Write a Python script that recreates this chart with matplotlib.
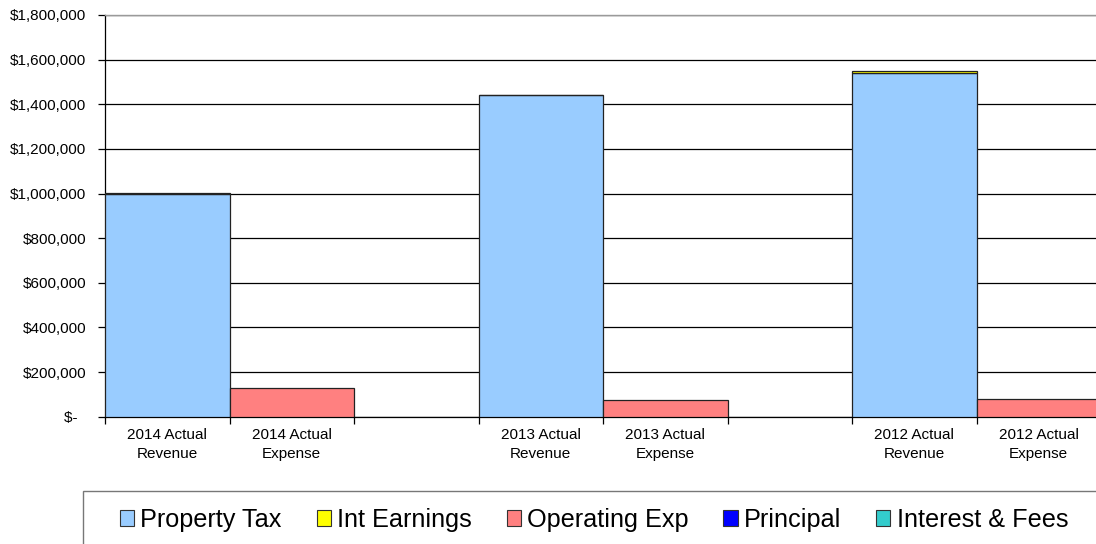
import matplotlib
matplotlib.use("Agg")
import matplotlib.pyplot as plt
from matplotlib.patches import Patch, Rectangle
from matplotlib.ticker import FuncFormatter
import numpy as np

plt.rcParams['font.family'] = ['Liberation Sans', 'DejaVu Sans']

# Categories (blank entries are spacer slots between years)
categories = ["2014 Actual\nRevenue", "2014 Actual\nExpense", "",
              "2013 Actual\nRevenue", "2013 Actual\nExpense", "",
              "2012 Actual\nRevenue", "2012 Actual\nExpense"]

# Stacked series values per category
property_tax    = [1000000, 0, 0, 1440000, 0, 0, 1540000, 0]
int_earnings    = [2000, 0, 0, 3000, 0, 0, 8000, 0]
operating_exp   = [0, 130000, 0, 0, 75000, 0, 0, 80000]
principal       = [0, 0, 0, 0, 0, 0, 0, 0]
interest_fees   = [0, 0, 0, 0, 0, 0, 0, 0]

series_names = ["Property Tax", "Int Earnings", "Operating Exp", "Principal", "Interest & Fees"]
series_vals = [property_tax, int_earnings, operating_exp, principal, interest_fees]
series_colors = ["#99CCFF", "#FFFF00", "#FF8080", "#0000FF", "#33CCCC"]

y_ticks = [0, 200000, 400000, 600000, 800000, 1000000, 1200000, 1400000, 1600000, 1800000]

W, H = 1096, 544
fig = plt.figure(figsize=(W / 100, H / 100), dpi=100)
ax = fig.add_axes([105 / W, 1 - 416.7 / H, (1101 - 105) / W, (416.7 - 15) / H])

x = np.arange(len(categories))
bottom = np.zeros(len(categories))
for name, vals, col in zip(series_names, series_vals, series_colors):
    v = np.array(vals, dtype=float)
    mask = v > 0
    ax.bar(x[mask], v[mask], width=1.0, bottom=bottom[mask], color=col,
           edgecolor="#222222", linewidth=0.9, zorder=3)
    bottom += v

ax.set_xlim(-0.5, len(categories) - 0.5)
ax.set_ylim(0, 1800000)

# Horizontal gridlines
ax.set_yticks(y_ticks)
ax.yaxis.grid(True, color="black", linewidth=0.9)
ax.set_axisbelow(True)

def money(v, pos):
    if v == 0:
        return "$-  "
    return "${:,.0f}".format(v)

ax.yaxis.set_major_formatter(FuncFormatter(money))
ax.tick_params(axis="y", which="major", length=5, width=0.9, direction="out",
               pad=8.5, labelsize=11, colors="black")

# Category boundary ticks, labels centered on each slot
ax.set_xticks(np.arange(len(categories) + 1) - 0.5)
ax.set_xticklabels([])
ax.tick_params(axis="x", which="major", length=5, width=0.9, direction="out")
ax.set_xticks(x, minor=True)
ax.set_xticklabels(categories, minor=True, fontsize=11, linespacing=1.45)
ax.tick_params(axis="x", which="minor", length=0, pad=8, colors="black")

for side in ["left", "bottom"]:
    ax.spines[side].set_color("black")
    ax.spines[side].set_linewidth(0.9)
ax.spines["top"].set_color("#9a9a9a")
ax.spines["top"].set_linewidth(1.0)
ax.spines["right"].set_visible(False)

# Legend box along the bottom edge
fig.patches.append(Rectangle((83 / W, -0.05), 1.1, (544 - 491) / H + 0.05,
                             transform=fig.transFigure, fill=False,
                             edgecolor="#777777", linewidth=1.0))
handles = [Patch(facecolor=c, edgecolor="#333333", linewidth=0.8) for c in series_colors]
fig.legend(handles, series_names, loc="center", bbox_to_anchor=(594 / W, 1 - 520 / H),
           ncol=5, frameon=False, fontsize=18.2, handlelength=0.56, handleheight=0.56,
           handletextpad=0.25, columnspacing=1.38, borderpad=0, borderaxespad=0)

fig.savefig("out.png", dpi=100)
